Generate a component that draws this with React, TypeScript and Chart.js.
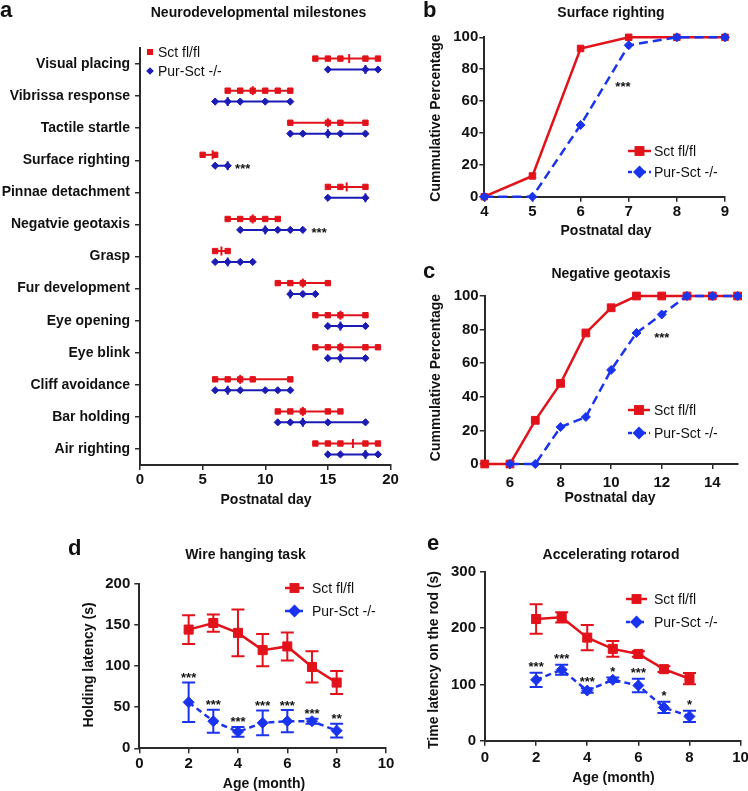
import React, { useEffect, useRef } from 'react';
import { Chart, registerables } from 'chart.js';
Chart.register(...registerables);

const PAGE_W = 748;
const PAGE_H = 791;
const FONT = '"Liberation Sans", Arial, Helvetica, sans-serif';
const TEXT = '#111111';
const AXIS = '#2a2a2a';
const RED = '#e2121b';
const BLUE_A = '#1b1bb5';
const BLUE = '#1a33ec';
const TICK_FONT = { family: FONT, size: 15, weight: 'bold' as const };
const X_H = 30;

// ---------- Panel a: neurodevelopmental milestones ----------
const milestones = [
  'Visual placing', 'Vibrissa response', 'Tactile startle', 'Surface righting',
  'Pinnae detachment', 'Negatvie geotaxis', 'Grasp', 'Fur development',
  'Eye opening', 'Eye blink', 'Cliff avoidance', 'Bar holding', 'Air righting',
];
const flDays = [
  [14, 15, 16, 18, 19], [7, 8, 9, 10, 11, 12], [12, 15, 16, 18], [5, 6],
  [15, 16, 18], [7, 8, 9, 10, 11], [6, 7], [11, 12, 13, 15],
  [14, 15, 16, 18], [14, 15, 16, 18, 19], [6, 7, 8, 9, 12], [11, 12, 13, 15, 16],
  [14, 15, 16, 18, 19],
];
const flMedian = [16.7, 9, 15, 5.8, 16.5, 9, 6.5, 13, 16, 16, 8, 13, 17];
const koDays = [
  [15, 18, 19], [6, 7, 8, 10, 12], [12, 13, 15, 16, 18], [6, 7],
  [15, 18], [8, 10, 11, 12, 13], [6, 7, 8, 9], [12, 13, 14],
  [15, 16, 18], [15, 16, 18], [6, 7, 8, 10, 11, 12], [11, 12, 13, 15, 18],
  [15, 16, 18, 19],
];
const koMedian = [18, 7, 15, 7, 18, 10, 7, 12, 16, 16, 7, 13, 18];
const milestoneStarRows = [3, 5];
const milestoneStarDays = [8.2, 14.3];
const milestoneStarText = ['***', '***'];
const aTicks = [0, 5, 10, 15, 20];

// ---------- Panel b: surface righting ----------
const surfDays = [4, 5, 6, 7, 8, 9];
const surfFl = [0, 13, 93, 100, 100, 100];
const surfKo = [0, 0, 45, 95, 100, 100];

// ---------- Panel c: negative geotaxis ----------
const geoDays = [5, 6, 7, 8, 9, 10, 11, 12, 13, 14, 15];
const geoFl = [0, 0, 26, 48, 78, 93, 100, 100, 100, 100, 100];
const geoKo = [null, 0, 0, 22, 28, 56, 78, 89, 100, 100, 100];
const geoTicks = [6, 8, 10, 12, 14];

// ---------- Panel d: wire hanging ----------
const months = [2, 3, 4, 5, 6, 7, 8];
const wireFl = [144.5, 152.5, 140.5, 119.5, 124, 99, 80];
const wireFlSem = [17.5, 10.5, 28.5, 19.5, 17, 19, 14];
const wireKo = [56, 33, 20, 31, 33, 33, 21.5];
const wireKoSem = [24, 14, 6, 15, 13.5, 3, 8.5];
const wireStars = ['***', '***', '***', '***', '***', '***', '**'];

// ---------- Panel e: accelerating rotarod ----------
const rotaFl = [216, 219, 183, 163, 154, 127, 110];
const rotaFlSem = [26, 9, 22.5, 14, 5, 5, 10];
const rotaKo = [108, 126, 89, 108, 98, 59, 43];
const rotaKoSem = [12.5, 9, 4, 4, 12, 10, 10];
const rotaStars = ['***', '***', '***', '*', '***', '*', '*'];

const SERIES_FL = 'Sct fl/fl';
const SERIES_KO = 'Pur-Sct -/-';

// ---------- helpers ----------
type Area = { L: number; T: number; R: number; B: number; yW: number };

function padding(a: Area) {
  return { left: a.L - a.yW, top: a.T, right: PAGE_W - a.R, bottom: PAGE_H - a.B - X_H };
}

function scaleX(min: number, max: number, pad: number, opts: { step?: number; ticks?: number[] }) {
  return {
    type: 'linear', position: 'bottom', min, max,
    ticks: { stepSize: opts.step, font: TICK_FONT, color: TEXT, padding: pad, autoSkip: false, maxRotation: 0, minRotation: 0 },
    grid: { drawOnChartArea: false, drawTicks: true, tickLength: 5, color: AXIS, lineWidth: 1.5 },
    border: { display: true, color: AXIS, width: 2 },
    afterBuildTicks: opts.ticks ? (s: any) => { s.ticks = opts.ticks!.map((v) => ({ value: v })); } : undefined,
    afterFit: (s: any) => { s.height = X_H; s.paddingLeft = 0; s.paddingRight = 0; },
  };
}

function scaleY(min: number, max: number, pad: number, step: number, yW: number) {
  return {
    type: 'linear', position: 'left', min, max,
    ticks: { stepSize: step, font: TICK_FONT, color: TEXT, padding: pad, autoSkip: false },
    grid: { drawOnChartArea: false, drawTicks: true, tickLength: 5, color: AXIS, lineWidth: 1.5 },
    border: { display: true, color: AXIS, width: 2 },
    afterFit: (s: any) => { s.width = yW; s.paddingTop = 0; s.paddingBottom = 0; },
  };
}

function pts(xs: number[], ys: (number | null)[]) {
  return xs.map((x, i) => ({ x, y: ys[i] })).filter((p) => p.y !== null);
}

type TextItem = { text: string; x: number; y: number; size: number; bold: boolean; align?: CanvasTextAlign; rotate?: boolean };
type LegendItem = { text: string; color: string; shape: 'rect' | 'diamond'; r: number; x: number; y: number; line?: [number, number]; dash?: number[]; textX: number };
type ErrItem = { ds: number; err: number[]; color: string };
type StarItem = { text: string; x: number; y: number; dy: number };
type Decor = { texts: TextItem[]; legend: LegendItem[]; errors?: ErrItem[]; stars?: StarItem[] };

function drawMarker(ctx: CanvasRenderingContext2D, shape: string, x: number, y: number, r: number, color: string) {
  ctx.fillStyle = color;
  ctx.beginPath();
  if (shape === 'rect') {
    const s = r * Math.SQRT1_2;
    ctx.rect(x - s, y - s, 2 * s, 2 * s);
  } else {
    ctx.moveTo(x - r, y); ctx.lineTo(x, y - r); ctx.lineTo(x + r, y); ctx.lineTo(x, y + r); ctx.closePath();
  }
  ctx.fill();
}

function makeDecor(cfg: Decor) {
  return {
    id: 'decor',
    beforeDatasetsDraw(chart: any) {
      const ctx: CanvasRenderingContext2D = chart.ctx;
      const ys = chart.scales.y;
      (cfg.errors || []).forEach((e) => {
        const meta = chart.getDatasetMeta(e.ds);
        const vals = chart.data.datasets[e.ds].data;
        meta.data.forEach((pt: any, i: number) => {
          const v = vals[i].y;
          const top = ys.getPixelForValue(v + e.err[i]);
          const bot = ys.getPixelForValue(v - e.err[i]);
          ctx.save();
          ctx.strokeStyle = e.color;
          ctx.lineWidth = 2;
          ctx.beginPath();
          ctx.moveTo(pt.x, top); ctx.lineTo(pt.x, bot);
          ctx.moveTo(pt.x - 6.5, top); ctx.lineTo(pt.x + 6.5, top);
          ctx.moveTo(pt.x - 6.5, bot); ctx.lineTo(pt.x + 6.5, bot);
          ctx.stroke();
          ctx.restore();
        });
      });
    },
    afterDraw(chart: any) {
      const ctx: CanvasRenderingContext2D = chart.ctx;
      ctx.save();
      ctx.fillStyle = TEXT;
      cfg.texts.forEach((t) => {
        ctx.save();
        ctx.font = `${t.bold ? 'bold ' : ''}${t.size}px ${FONT}`;
        ctx.fillStyle = TEXT;
        ctx.textBaseline = 'alphabetic';
        ctx.textAlign = t.align || 'center';
        ctx.translate(t.x, t.y);
        if (t.rotate) ctx.rotate(-Math.PI / 2);
        ctx.fillText(t.text, 0, 0);
        ctx.restore();
      });
      cfg.legend.forEach((l) => {
        ctx.save();
        if (l.line) {
          ctx.strokeStyle = l.color;
          ctx.lineWidth = 2.5;
          ctx.setLineDash(l.dash || []);
          ctx.beginPath();
          ctx.moveTo(l.line[0], l.y); ctx.lineTo(l.line[1], l.y);
          ctx.stroke();
          ctx.setLineDash([]);
        }
        drawMarker(ctx, l.shape, l.x, l.y, l.r, l.color);
        ctx.font = `14px ${FONT}`;
        ctx.fillStyle = TEXT;
        ctx.textAlign = 'left';
        ctx.textBaseline = 'alphabetic';
        ctx.fillText(l.text, l.textX, l.y + 5);
        ctx.restore();
      });
      const xs = chart.scales.x;
      const ys = chart.scales.y;
      (cfg.stars || []).forEach((s) => {
        ctx.save();
        ctx.font = `bold 13px ${FONT}`;
        ctx.fillStyle = TEXT;
        ctx.textAlign = 'center';
        ctx.textBaseline = 'alphabetic';
        ctx.fillText(s.text, xs.getPixelForValue(s.x), ys.getPixelForValue(s.y) + s.dy + 7);
        ctx.restore();
      });
      ctx.restore();
    },
  };
}

function baseOptions(area: Area, scales: any) {
  return {
    animation: false,
    responsive: false,
    devicePixelRatio: 1,
    events: [],
    layout: { padding: padding(area) },
    plugins: { legend: { display: false }, tooltip: { enabled: false }, title: { display: false } },
    scales,
  };
}

function T(text: string, x: number, y: number, opts: Partial<TextItem> = {}): TextItem {
  return { text, x, y, size: 14, bold: true, ...opts };
}

// ---------- chart configs ----------
function configA() {
  const area: Area = { L: 140, T: 48, R: 390.5, B: 465, yW: 140 };
  const datasets: any[] = [];
  milestones.forEach((_, i) => {
    datasets.push({
      data: flDays[i].map((d) => ({ x: d, y: i - 0.17 })),
      borderColor: RED, borderWidth: 2, pointStyle: 'rect', pointRadius: 3.8,
      pointBackgroundColor: RED, pointBorderColor: RED, pointBorderWidth: 1, clip: false, order: 1,
    });
    datasets.push({
      data: koDays[i].map((d) => ({ x: d, y: i + 0.17 })),
      borderColor: BLUE_A, borderWidth: 2, pointStyle: 'rectRot', pointRadius: 3.6,
      pointBackgroundColor: BLUE_A, pointBorderColor: BLUE_A, pointBorderWidth: 1, clip: false, order: 0,
    });
  });
  datasets.push({
    data: flMedian.map((d, i) => ({ x: d, y: i - 0.17 })), showLine: false,
    pointStyle: 'line', pointRotation: 90, pointRadius: 4.5, pointBorderColor: RED, pointBorderWidth: 2, clip: false,
  });
  datasets.push({
    data: koMedian.map((d, i) => ({ x: d, y: i + 0.17 })), showLine: false,
    pointStyle: 'line', pointRotation: 90, pointRadius: 4.5, pointBorderColor: BLUE_A, pointBorderWidth: 2, clip: false,
  });
  const yScale: any = scaleY(-0.5, 12.5, 5, 1, area.yW);
  yScale.reverse = true;
  yScale.ticks = { ...yScale.ticks, font: { family: FONT, size: 14, weight: 'bold' }, callback: (v: number) => milestones[Math.round(v)] ?? '' };
  yScale.afterBuildTicks = (s: any) => { s.ticks = milestones.map((_, i) => ({ value: i })); };
  const decor: Decor = {
    texts: [
      T('a', 0, 17, { size: 22, align: 'left' }),
      T('Neurodevelopmental milestones', 258.5, 17),
      T('Postnatal day', 266, 504),
    ],
    legend: [
      { text: SERIES_FL, color: RED, shape: 'rect', r: 4.3, x: 150, y: 52, textX: 158 },
      { text: SERIES_KO, color: BLUE_A, shape: 'diamond', r: 3.8, x: 150, y: 71, textX: 158 },
    ],
    stars: milestoneStarRows.map((row, i) => ({ text: milestoneStarText[i], x: milestoneStarDays[i], y: row + 0.17, dy: 0 })),
  };
  return {
    type: 'line',
    data: { datasets },
    options: baseOptions(area, { x: scaleX(0, 20, 1, { ticks: aTicks }), y: yScale }),
    plugins: [makeDecor(decor)],
  };
}

function cumulativeConfig(opts: {
  area: Area; xs: number[]; fl: (number | null)[]; ko: (number | null)[]; xMin: number; xMax: number; xTicks?: number[]; xStep?: number;
  xPad: number; rFl: number; rKo: number; decor: Decor;
}) {
  return {
    type: 'line',
    data: {
      datasets: [
        { label: SERIES_FL, data: pts(opts.xs, opts.fl), borderColor: RED, borderWidth: 2.5, pointStyle: 'rect', pointRadius: opts.rFl,
          pointBackgroundColor: RED, pointBorderColor: RED, pointBorderWidth: 1, clip: false, order: 1 },
        { label: SERIES_KO, data: pts(opts.xs, opts.ko), borderColor: BLUE, borderWidth: 2.5, borderDash: [9, 5], pointStyle: 'rectRot', pointRadius: opts.rKo,
          pointBackgroundColor: BLUE, pointBorderColor: BLUE, pointBorderWidth: 1, clip: false, order: 0 },
      ],
    },
    options: baseOptions(opts.area, {
      x: scaleX(opts.xMin, opts.xMax, opts.xPad, { step: opts.xStep, ticks: opts.xTicks }),
      y: scaleY(0, 100, 1, 20, opts.area.yW),
    }),
    plugins: [makeDecor(opts.decor)],
  };
}

function configB() {
  return cumulativeConfig({
    area: { L: 484.3, T: 37.3, R: 725, B: 196.7, yW: 70 },
    xs: surfDays, fl: surfFl, ko: surfKo, xMin: 4, xMax: 9, xStep: 1, xPad: 1.6, rFl: 4.6, rKo: 4.5,
    decor: {
      texts: [
        T('b', 423, 17, { size: 22, align: 'left' }),
        T('Surface righting', 611, 17),
        T('Postnatal day', 606, 235),
        T('Cummulative Percentage', 440, 118, { rotate: true }),
      ],
      legend: [
        { text: SERIES_FL, color: RED, shape: 'rect', r: 7, x: 639.5, y: 151, line: [628, 651], textX: 654 },
        { text: SERIES_KO, color: BLUE, shape: 'diamond', r: 6.5, x: 639.5, y: 172, line: [628, 651], dash: [4, 3], textX: 654 },
      ],
      stars: [{ text: '***', x: 6.88, y: 71, dy: 0 }],
    },
  });
}

function configC() {
  return cumulativeConfig({
    area: { L: 484.7, T: 296, R: 737.6, B: 464, yW: 70 },
    xs: geoDays, fl: geoFl, ko: geoKo, xMin: 5, xMax: 15, xTicks: geoTicks, xPad: 4.6, rFl: 5.5, rKo: 4.5,
    decor: {
      texts: [
        T('c', 423, 278, { size: 22, align: 'left' }),
        T('Negative geotaxis', 611, 278),
        T('Postnatal day', 610, 502),
        T('Cummulative Percentage', 440, 377.5, { rotate: true }),
      ],
      legend: [
        { text: SERIES_FL, color: RED, shape: 'rect', r: 7, x: 639, y: 410, line: [628, 650], textX: 654 },
        { text: SERIES_KO, color: BLUE, shape: 'diamond', r: 6.5, x: 639, y: 433, line: [628, 650], dash: [4, 3], textX: 654 },
      ],
      stars: [{ text: '***', x: 12, y: 77, dy: 0 }],
    },
  });
}

function meanConfig(opts: {
  area: Area; fl: number[]; flSem: number[]; ko: number[]; koSem: number[]; stars: string[]; yMax: number; yStep: number;
  xPad: number; starDy: number; texts: TextItem[]; legendX: number; legendLine: [number, number]; legendTextX: number; legendY: [number, number];
}) {
  return {
    type: 'line',
    data: {
      datasets: [
        { label: SERIES_FL, data: pts(months, opts.fl), borderColor: RED, borderWidth: 2.5, pointStyle: 'rect', pointRadius: 6.4,
          pointBackgroundColor: RED, pointBorderColor: RED, pointBorderWidth: 1, clip: false, order: 1 },
        { label: SERIES_KO, data: pts(months, opts.ko), borderColor: BLUE, borderWidth: 2.5, borderDash: [6, 4], pointStyle: 'rectRot', pointRadius: 5.5,
          pointBackgroundColor: BLUE, pointBorderColor: BLUE, pointBorderWidth: 1, clip: false, order: 0 },
      ],
    },
    options: baseOptions(opts.area, {
      x: scaleX(0, 10, opts.xPad, { step: 2 }),
      y: scaleY(0, opts.yMax, 4, opts.yStep, opts.area.yW),
    }),
    plugins: [makeDecor({
      texts: opts.texts,
      legend: [
        { text: SERIES_FL, color: RED, shape: 'rect', r: 7, x: opts.legendX, y: opts.legendY[0], line: opts.legendLine, textX: opts.legendTextX },
        { text: SERIES_KO, color: BLUE, shape: 'diamond', r: 6.5, x: opts.legendX, y: opts.legendY[1], line: opts.legendLine, dash: [4, 3], textX: opts.legendTextX },
      ],
      errors: [
        { ds: 0, err: opts.flSem, color: RED },
        { ds: 1, err: opts.koSem, color: BLUE },
      ],
      stars: months.map((m, i) => ({ text: opts.stars[i], x: m, y: opts.ko[i] + opts.koSem[i], dy: -opts.starDy })),
    })],
  };
}

function configD() {
  return meanConfig({
    area: { L: 139.3, T: 584, R: 386, B: 748.3, yW: 70 },
    fl: wireFl, flSem: wireFlSem, ko: wireKo, koSem: wireKoSem, stars: wireStars, yMax: 200, yStep: 50, xPad: 2, starDy: 7.5,
    texts: [
      T('d', 68, 555, { size: 22, align: 'left' }),
      T('Wire hanging task', 245.5, 559),
      T('Age (month)', 264, 788),
      T('Holding latency (s)', 93, 665, { rotate: true }),
    ],
    legendX: 294.5, legendLine: [285, 304], legendTextX: 312, legendY: [588, 611],
  });
}

function configE() {
  return meanConfig({
    area: { L: 485, T: 571.7, R: 740.7, B: 740.7, yW: 70 },
    fl: rotaFl, flSem: rotaFlSem, ko: rotaKo, koSem: rotaKoSem, stars: rotaStars, yMax: 300, yStep: 100, xPad: 3.6, starDy: 9,
    texts: [
      T('e', 427, 550, { size: 22, align: 'left' }),
      T('Accelerating rotarod', 611, 559),
      T('Age (month)', 613.5, 782),
      T('Time latency on the rod (s)', 438, 660, { rotate: true }),
    ],
    legendX: 636.5, legendLine: [626, 647], legendTextX: 654, legendY: [599, 622],
  });
}

function ChartLayer({ build }: { build: () => any }) {
  const ref = useRef<HTMLCanvasElement>(null);
  useEffect(() => {
    const chart = new Chart(ref.current as HTMLCanvasElement, build());
    return () => chart.destroy();
  }, [build]);
  return (
    <canvas
      ref={ref}
      width={PAGE_W}
      height={PAGE_H}
      style={{ position: 'absolute', left: 0, top: 0, width: PAGE_W, height: PAGE_H }}
    />
  );
}

const builders = [configA, configB, configC, configD, configE];

export default function App() {
  return (
    <div style={{ position: 'fixed', left: 0, top: 0, width: PAGE_W, height: PAGE_H, background: '#ffffff', overflow: 'hidden' }}>
      {builders.map((b, i) => <ChartLayer key={i} build={b} />)}
    </div>
  );
}
